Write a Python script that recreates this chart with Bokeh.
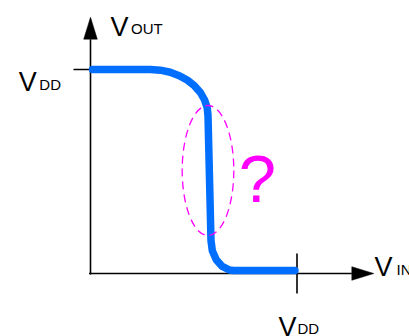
from bokeh.plotting import figure
from bokeh.embed import file_html
from bokeh.resources import INLINE
from bokeh.models import Range1d
from bokeh.core.properties import value

# ---- data (VDD = 1) ----
VDD = 1.0
vin = [0.01, 0.29, 0.338, 0.386, 0.430, 0.470, 0.504, 0.532, 0.552, 0.565, 0.569,
       0.5835, 0.590, 0.609, 0.638, 0.674, 0.6925, 0.99]
vout = [1.0, 1.0, 0.9966, 0.9864, 0.9698, 0.9472, 0.9195, 0.8873, 0.8516, 0.8137, 0.7745,
        0.1618, 0.1115, 0.0672, 0.0344, 0.0169, 0.0147, 0.0147]

# region of uncertainty (ellipse) around the steep transition
ell_x, ell_y, ell_w, ell_h = [0.569], [0.505], [0.25], [0.637]

y_label = ["V", "OUT"]
x_label = ["V", "IN"]
vdd_label = ["V", "DD"]
question = "?"

# ---- layout helpers ----
W, H = 409, 336
OX, OY = 90, 273          # origin in canvas pixels
SX, SY = 206.5, 204.0     # pixels per unit
def px(d):  # pixels -> data (x)
    return d / SX
def py(d):  # pixels -> data (y)
    return d / SY

X_END = px(373.3 - 90)    # arrow tips
Y_END = py(273 - 16.7)
HEAD_L = 22
HEAD_HW = 6.8

p = figure(width=W, height=H, output_backend="svg", toolbar_location=None,
           x_axis_type=None, y_axis_type=None, min_border=0,
           x_range=Range1d(-OX / SX, (W - OX) / SX),
           y_range=Range1d(-(H - OY) / SY, OY / SY))
p.grid.visible = False
p.outline_line_color = None
p.background_fill_color = "white"
p.border_fill_color = "white"

AX = "black"
AW = 1.6
# axes
p.line([-px(1.5), X_END - px(HEAD_L)], [0, 0], line_color=AX, line_width=AW)
p.line([0, 0], [-py(1), Y_END - py(HEAD_L)], line_color=AX, line_width=AW)
p.patch([X_END, X_END - px(HEAD_L), X_END - px(HEAD_L)],
        [0, py(HEAD_HW), -py(HEAD_HW)], color=AX, line_width=0.5)
p.patch([0, -px(HEAD_HW), px(HEAD_HW)],
        [Y_END, Y_END - py(HEAD_L), Y_END - py(HEAD_L)], color=AX, line_width=0.5)
# VDD ticks
p.line([-px(17), 0], [VDD, VDD], line_color=AX, line_width=AW)
p.line([VDD, VDD], [-py(20), py(20)], line_color=AX, line_width=AW)

# transfer curve
p.line(vin, vout, line_color="#006eff", line_width=7.5, line_cap="round", line_join="round")

# dashed ellipse
p.ellipse(x=ell_x, y=ell_y, width=ell_w, height=ell_h, fill_alpha=0,
          line_color="#ff00ff", line_width=1.3, line_dash="8 5")

FONT = value("Liberation Sans")
def lab(x, y, t, size, color="black", align="left"):
    p.text(x=[x], y=[y], text=[t], text_font=FONT, text_font_size=value(size),
           text_color=color, text_align=align, text_baseline="alphabetic")

# V_OUT
lab(px(20), Y_END - py(26 - 16.7), y_label[0], "27px")
lab(px(40.5), Y_END - py(27.7 - 16.7), y_label[1], "15px")
# V_IN
lab(X_END + px(0.7), py(7), x_label[0], "27px")
lab(X_END + px(22.7), py(3.7), x_label[1], "15px")
# V_DD on the y axis
lab(-px(90 - 18.3), VDD - py(81.7 - 69), vdd_label[0], "27px")
lab(-px(90 - 38.8), VDD - py(84.3 - 69), vdd_label[1], "15px")
# V_DD on the x axis
lab(VDD - px(296.7 - 278.3), -py(326 - 273), vdd_label[0], "27px")
lab(VDD + px(297.1 - 296.7), -py(328.3 - 273), vdd_label[1], "15px")
# question mark
lab(ell_x[0] + px(49.5), ell_y[0] - py(178.3 - 170), question, "67px",
    color="#ff00ff", align="center")

open("out.html", "w").write(file_html(p, INLINE))
